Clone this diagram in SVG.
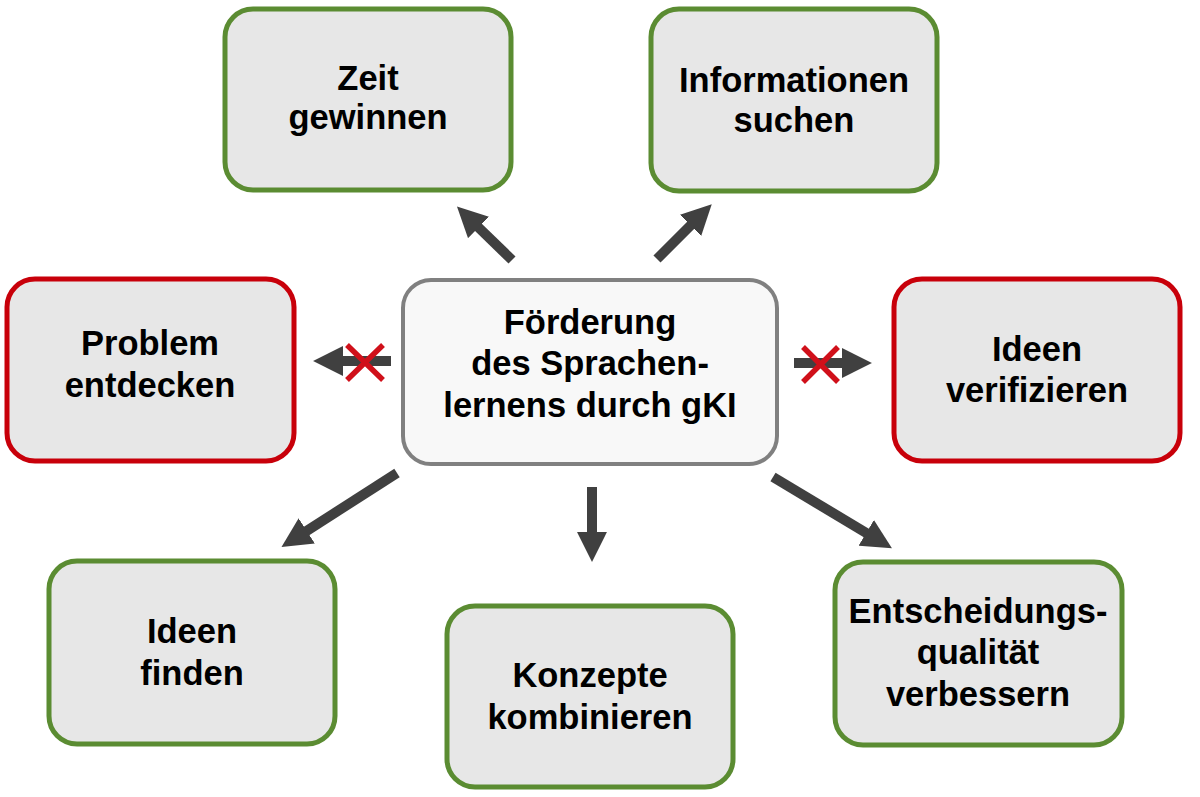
<svg xmlns="http://www.w3.org/2000/svg" width="1200" height="797" viewBox="0 0 1200 797">
<defs>
<marker id="ah" markerUnits="userSpaceOnUse" markerWidth="30" markerHeight="30" viewBox="0 0 29 29" refX="2" refY="14.5" orient="auto">
<path d="M0,0 L29,14.5 L0,29 z" fill="#404040"/>
</marker>
<style>
.box{fill:#e7e7e7;stroke-width:5}
.g{stroke:#5b8c32}
.r{stroke:#c8000a}
.c{fill:#f8f8f8;stroke:#808080;stroke-width:4}
text{font-family:"Liberation Sans",Arial,sans-serif;font-weight:bold;font-size:34.5px;fill:#000;text-anchor:middle}
.arr{stroke:#404040;stroke-width:10;fill:none;marker-end:url(#ah)}
.x{stroke:#d0101a;stroke-width:5.5;stroke-linecap:butt}
</style>
</defs>
<rect width="1200" height="797" fill="#ffffff"/>
<g id="connectors">
<line class="arr" x1="512" y1="260" x2="477" y2="226"/>
<line class="arr" x1="657" y1="259" x2="692" y2="224"/>
<line class="arr" x1="391" y1="361" x2="341" y2="361"/>
<line class="arr" x1="794" y1="363" x2="844" y2="363"/>
<line class="arr" x1="397" y1="473" x2="305" y2="532"/>
<line class="arr" x1="592" y1="487" x2="592" y2="534"/>
<line class="arr" x1="773" y1="477" x2="868" y2="534"/>
<path class="x" d="M347,345 L383,380 M383,345 L347,380"/>
<path class="x" d="M803,347 L838,382 M838,347 L803,382"/>
</g>
<g id="center">
<rect class="c" x="403" y="280" width="374" height="184" rx="28"/>
<text x="590" y="334">Förderung</text>
<text x="590" y="375">des Sprachen-</text>
<text x="590" y="417">lernens durch gKI</text>
</g>
<g id="zeit">
<rect class="box g" x="225" y="9" width="286" height="181" rx="28"/>
<text x="368" y="90">Zeit</text>
<text x="368" y="129">gewinnen</text>
</g>
<g id="informationen">
<rect class="box g" x="651" y="9" width="286" height="182" rx="28"/>
<text x="794" y="92">Informationen</text>
<text x="794" y="132">suchen</text>
</g>
<g id="problem">
<rect class="box r" x="7" y="279" width="287" height="182" rx="28"/>
<text x="150" y="355">Problem</text>
<text x="150" y="397">entdecken</text>
</g>
<g id="verifizieren">
<rect class="box r" x="894" y="279" width="286" height="182" rx="28"/>
<text x="1037" y="361">Ideen</text>
<text x="1037" y="402">verifizieren</text>
</g>
<g id="finden">
<rect class="box g" x="49" y="561" width="286" height="183" rx="28"/>
<text x="192" y="643">Ideen</text>
<text x="192" y="685">finden</text>
</g>
<g id="konzepte">
<rect class="box g" x="447" y="606" width="286" height="181" rx="28"/>
<text x="590" y="687">Konzepte</text>
<text x="590" y="729">kombinieren</text>
</g>
<g id="entscheidung">
<rect class="box g" x="835" y="562" width="287" height="183" rx="28"/>
<text x="978" y="623">Entscheidungs-</text>
<text x="978" y="664">qualität</text>
<text x="978" y="706">verbessern</text>
</g>
</svg>
